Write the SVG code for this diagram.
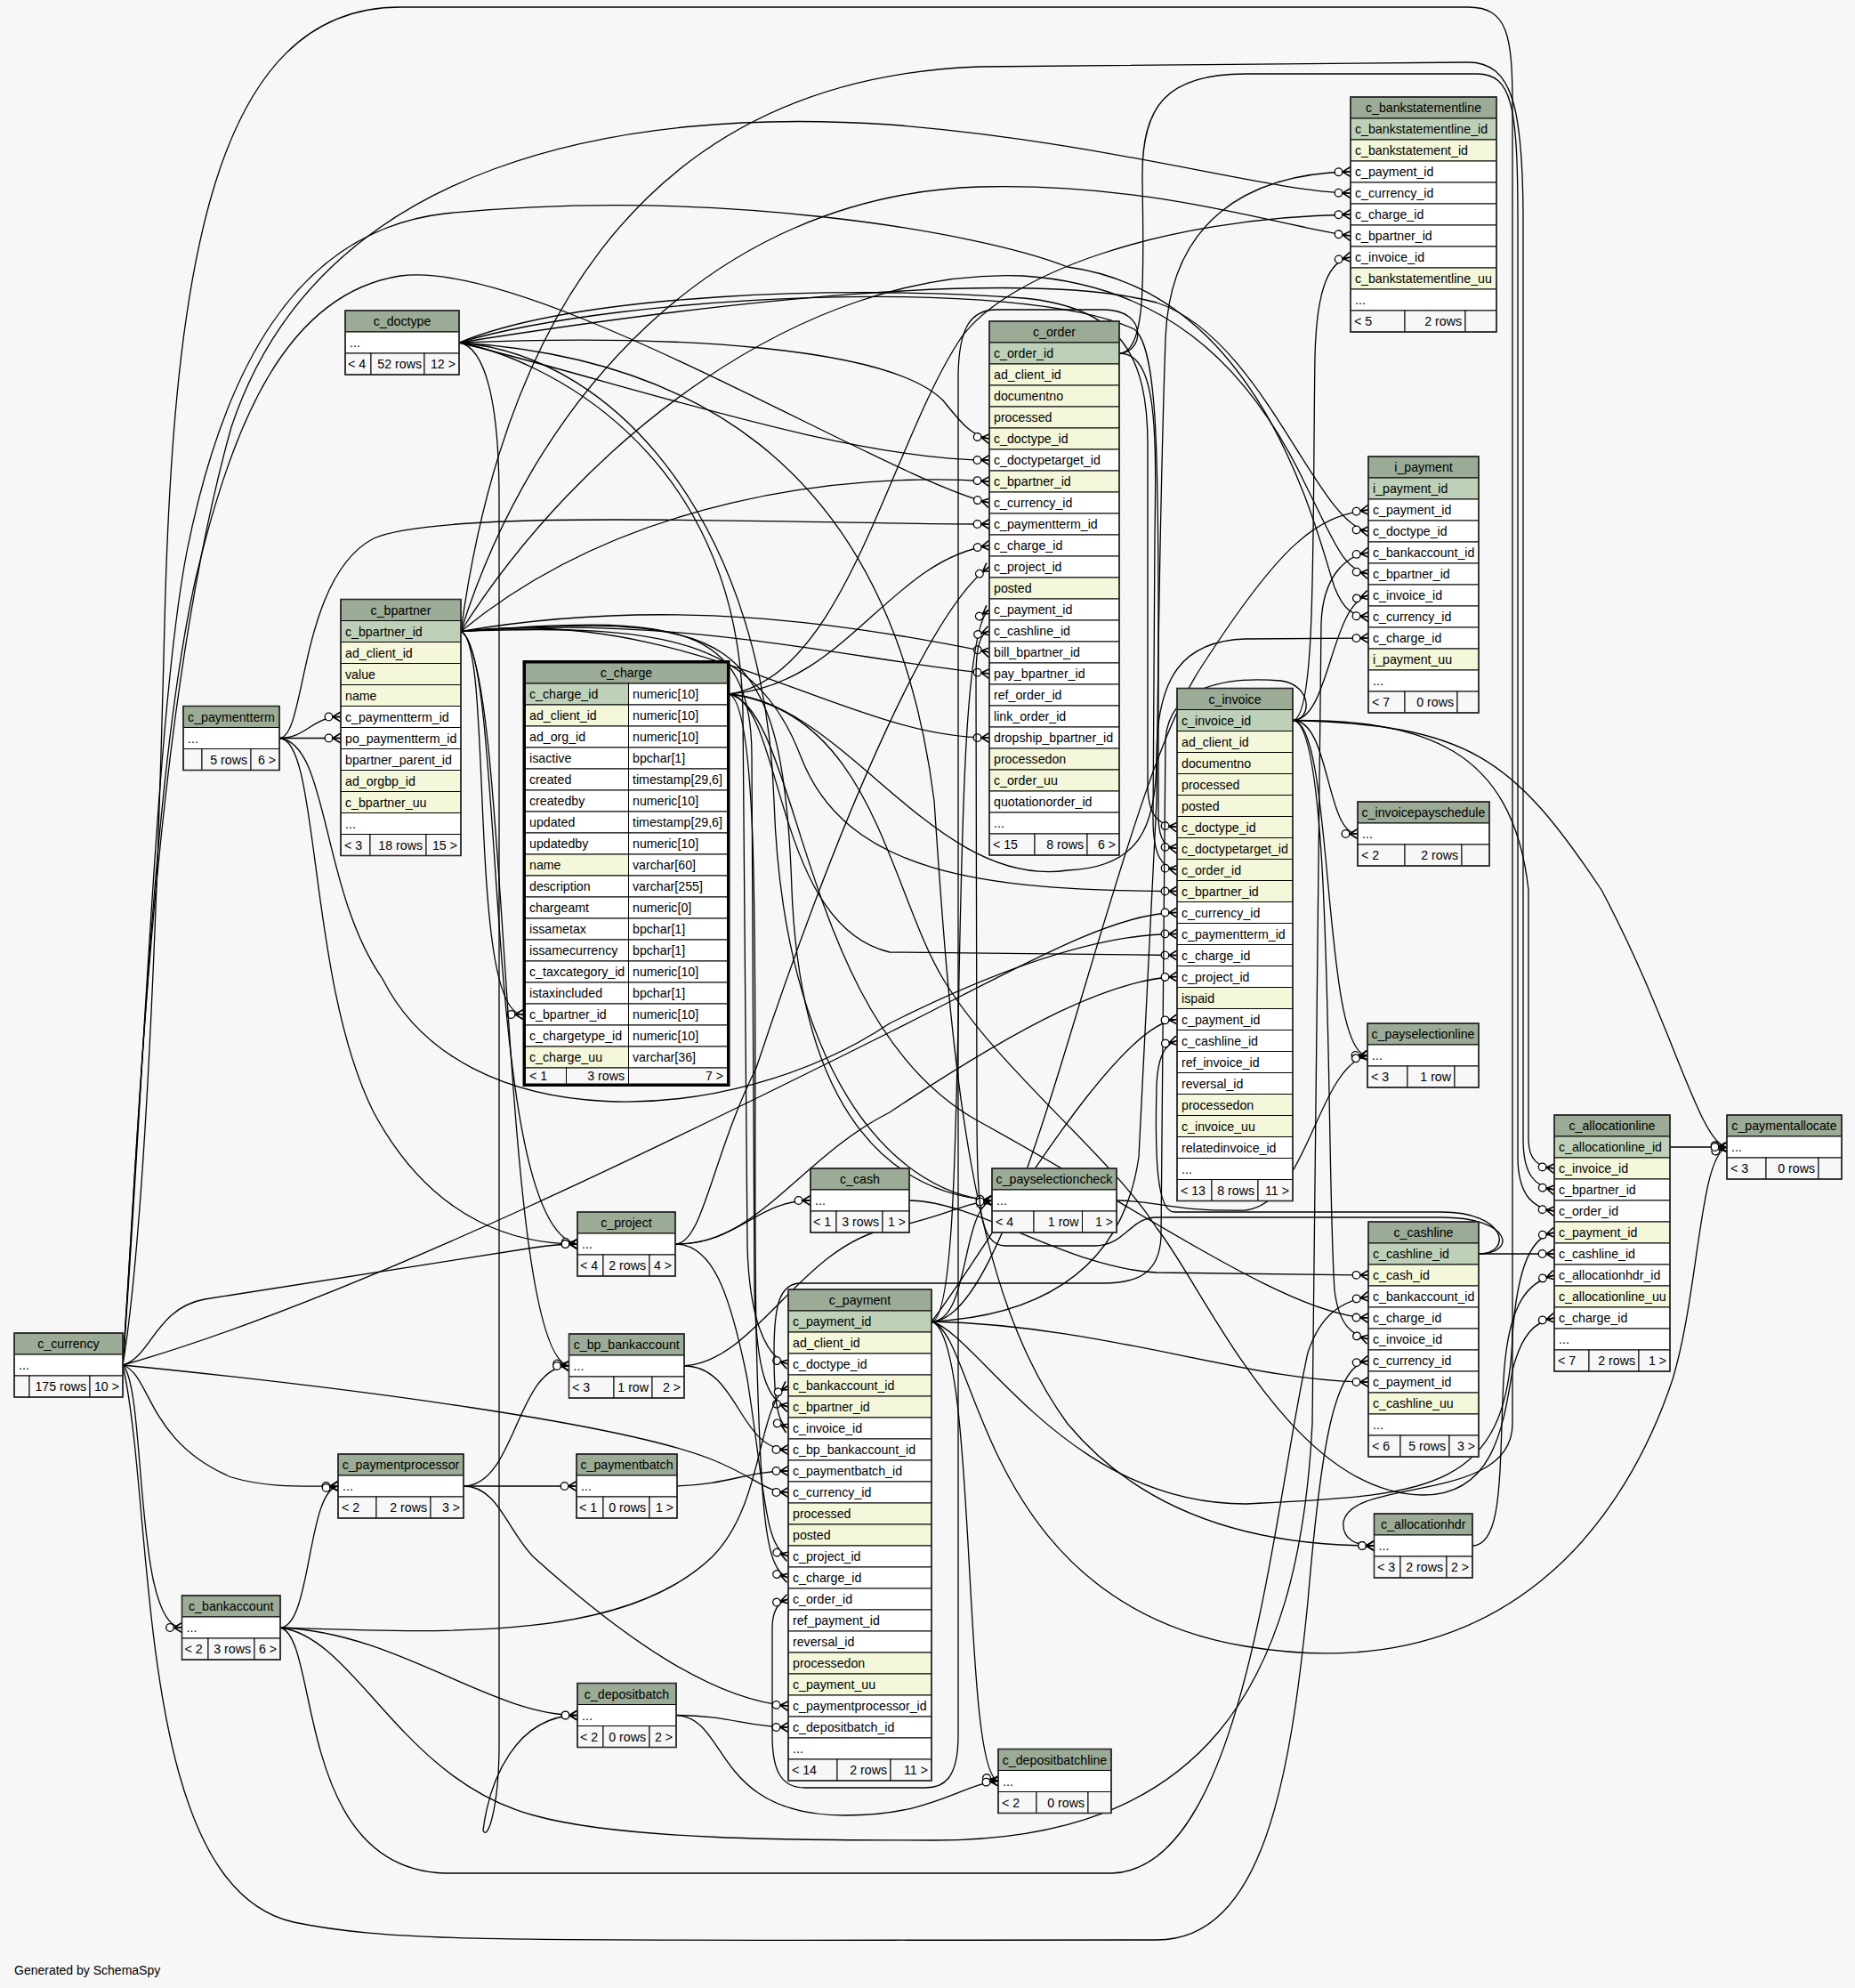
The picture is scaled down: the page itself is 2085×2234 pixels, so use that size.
<svg xmlns="http://www.w3.org/2000/svg" width="2085" height="2234" viewBox="0 0 2085 2234">
<defs>
<style>
.t{font-family:"Liberation Sans",Arial,Helvetica,sans-serif;font-size:14.2px;fill:#000}
.h{text-anchor:middle}
.r{text-anchor:end}
.hd{fill:#9bab96;stroke:#000;stroke-width:1}
.pk{fill:#bed1b8;stroke:#000;stroke-width:1}
.ix{fill:#f4f7da;stroke:#000;stroke-width:1}
.rw{fill:#ffffff;stroke:#000;stroke-width:1}
.ft{fill:#f7f7f7;stroke:#000;stroke-width:1}
.ob{fill:none;stroke:#2a2a2a;stroke-width:1.6}
.fr{fill:none;stroke:#000;stroke-width:3}
.e{fill:none;stroke:#000;stroke-width:1.3;marker-end:url(#crow)}
</style>
<marker id="crow" markerUnits="userSpaceOnUse" markerWidth="30" markerHeight="20" viewBox="0 0 30 20" refX="24" refY="10" orient="auto" overflow="visible">
<path d="M15,10 L24,4.5 M15,10 L24,10 M15,10 L24,15.5" fill="none" stroke="#000" stroke-width="1.6"/>
<circle cx="10.5" cy="10" r="4.3" fill="#ffffff" stroke="#000" stroke-width="1.3"/>
</marker>
</defs>
<rect x="0" y="0" width="2085" height="2234" fill="#f7f7f7"/>

<g id="connectors">
<path class="e" d="M516 385 C760 375 1000 390 1060 450 C1080 475 1092 490 1112 493"/>
<path class="e" d="M516 385 C700 430 950 517 1112 517"/>
<path class="e" d="M516 385 C650 330 950 320 1150 335 C1260 345 1290 400 1290 500 L1290 880 C1290 915 1300 927 1323 929.5"/>
<path class="e" d="M516 385 C700 330 1150 310 1275 370 C1300 390 1302 500 1302 700 L1302 920 C1303 945 1310 952 1323 953.5"/>
<path class="e" d="M516 385 C600 400 830 500 835 800 L840 1400 C842 1480 860 1525 886 1533"/>
<path class="e" d="M516 385 C800 340 1150 300 1300 340 C1420 380 1480 590 1538 597"/>
<path class="e" d="M516 385 C545 390 561 450 561 560 L561 1960 C561 2030 548 2070 543 2057 C550 2000 580 1928 649 1927.5"/>
<path class="e" d="M516 385 C750 400 1000 500 1050 900 C1070 1200 1090 1450 1200 1600 C1300 1720 1450 1737 1544.5 1737"/>
<path class="e" d="M516 385 C700 400 860 600 870 900 C880 1200 1000 1340 1115 1349"/>

<path class="e" d="M518 709.5 C555 720 525 1140 588 1140"/>
<path class="e" d="M518 709.5 C570 730 540 1380 649 1398"/>
<path class="e" d="M518 709.5 C575 740 560 1520 639.5 1535"/>
<path class="e" d="M518 709.5 C700 560 950 530 1112 541"/>
<path class="e" d="M518 709.5 C750 670 950 700 1112 733"/>
<path class="e" d="M518 709.5 C760 690 950 740 1112 757"/>
<path class="e" d="M518 709.5 C780 680 950 830 1112 829"/>
<path class="e" d="M518 709.5 C750 700 850 720 900 850 C950 980 1100 1001 1323 1001.5"/>
<path class="e" d="M518 709.5 C760 690 845 700 845 850 L848 1450 C850 1540 862 1575 886 1581"/>
<path class="e" d="M518 709.5 C600 450 800 220 1100 210 C1300 205 1440 255 1518 265"/>
<path class="e" d="M518 709.5 C650 500 900 300 1150 310 C1300 320 1400 400 1470 550 C1500 610 1510 640 1538 645"/>
<path class="e" d="M518 709.5 C560 400 700 90 1100 75 L1650 70 C1700 70 1712 120 1712 250 L1712 1280 C1712 1320 1725 1333 1747 1337"/>
<path class="e" d="M518 709.5 C820 690 880 700 890 1000 C900 1250 1000 1340 1115 1349"/>

<path class="e" d="M314 829.5 C345 829.5 350 805.5 383 805.5"/>
<path class="e" d="M314 829.5 L383 829.5"/>
<path class="e" d="M314 829.5 C345 829 335 650 420 605 C500 570 900 589 1112 589"/>
<path class="e" d="M314 829.5 C370 835 360 1000 430 1100 C520 1280 820 1270 1000 1150 C1150 1075 1250 1049 1323 1049.5"/>
<path class="e" d="M314 829.5 C360 829.5 345 1100 420 1250 C490 1380 590 1398 649 1398"/>

<path class="e" d="M820 780 C950 760 1000 500 1080 380 C1130 310 1300 245 1518 241"/>
<path class="e" d="M820 780 C950 790 1050 1000 1200 978 C1280 975 1300 930 1300 850 C1300 760 1330 720 1400 718 L1538 717"/>
<path class="e" d="M820 780 C950 770 1000 630 1112 613"/>
<path class="e" d="M820 780 C880 790 870 1040 1000 1070 L1323 1073.5"/>
<path class="e" d="M820 780 C860 800 845 1200 850 1500 C855 1700 860 1765 886 1773"/>
<path class="e" d="M820 780 C900 800 900 1150 1100 1260 C1300 1370 1450 1478 1538 1481"/>
<path class="e" d="M820 780 C980 800 1000 1000 1060 1100 C1120 1200 1250 1300 1300 1380 C1350 1440 1450 1680 1600 1680 C1680 1680 1690 1600 1700 1540 C1710 1500 1725 1485 1747 1481"/>

<path class="e" d="M1258 397 C1300 397 1300 480 1298 600 L1296 920 C1296 960 1305 975 1323 977.5"/>
<path class="e" d="M1258 397 C1285 397 1292 348 1240 348 L1120 348 C1090 348 1078 370 1077 420 L1077 1950 C1077 2000 1060 2009 1040 2009 L905 2009 C878 2009 868 1990 868 1950 L868 1830 C868 1810 875 1800 886 1797"/>
<path class="e" d="M1258 397 C1290 397 1285 300 1284 200 C1283 120 1310 83 1400 83 L1660 83 C1700 83 1706 120 1706 250 L1706 1300 C1706 1345 1725 1358 1747 1361"/>

<path class="e" d="M1453 809.5 C1480 809 1475 600 1478 400 C1480 320 1495 293 1518 289"/>
<path class="e" d="M1453 809.5 C1495 809 1495 680 1538 669"/>
<path class="e" d="M1453 809.5 C1495 809 1490 937 1526 937"/>
<path class="e" d="M1453 809.5 C1500 809 1485 1186 1537 1186"/>
<path class="e" d="M1453 809.5 C1500 809 1490 1300 1500 1450 C1505 1490 1520 1500 1538 1505"/>
<path class="e" d="M1453 809.5 C1600 809 1700 840 1718 1000 L1718 1280 C1718 1305 1730 1311 1747 1313"/>
<path class="e" d="M1453 809.5 C1650 815 1700 850 1800 1000 C1880 1150 1910 1285 1941 1289"/>
<path class="e" d="M1453 809.5 C1475 809 1475 770 1440 765 C1380 760 1315 770 1310 830 L1305 1390 C1303 1430 1280 1442 1240 1442 L900 1442 C875 1442 870 1470 870 1520 C870 1580 875 1600 886 1605"/>

<path class="e" d="M1047 1485 C1150 1480 1260 1440 1280 1300 L1300 900 C1302 700 1306 500 1310 380 C1315 250 1400 195 1518 193"/>
<path class="e" d="M1047 1485 C1150 1485 1250 900 1350 750 C1440 610 1480 580 1538 573"/>
<path class="e" d="M1047 1485 C1095 1485 1060 720 1112 685"/>
<path class="e" d="M1047 1485 C1100 1420 1250 1150 1323 1145.5"/>
<path class="e" d="M1047 1485 C1250 1490 1400 1553 1538 1553"/>
<path class="e" d="M1047 1485 C1100 1500 1200 1690 1400 1690 C1600 1680 1695 1680 1700 1500 C1706 1420 1722 1390 1747 1385"/>
<path class="e" d="M1047 1485 C1100 1500 1100 1800 1400 1850 C1700 1900 1830 1700 1880 1550 C1910 1450 1910 1300 1941 1289"/>
<path class="e" d="M1047 1485 C1090 1485 1080 1360 1115 1349"/>
<path class="e" d="M1047 1485 C1100 1500 1080 1990 1122 2001.5"/>

<path class="e" d="M138 1534 C165 1560 150 1829 204.5 1829"/>
<path class="e" d="M138 1534 C170 1545 165 1620 260 1660 C300 1672 340 1670 380 1670"/>
<path class="e" d="M138 1534 C170 1525 175 1470 230 1460 L600 1402 C620 1399 635 1398 649 1398"/>
<path class="e" d="M138 1534 C155 1300 170 800 260 480 C360 180 700 120 1000 140 C1250 160 1420 215 1518 217"/>
<path class="e" d="M138 1534 C160 1250 175 800 210 620 C250 420 330 260 500 240 C800 210 1100 260 1200 300 C1420 330 1480 600 1500 660 C1510 685 1520 692 1538 693"/>
<path class="e" d="M138 1534 C160 1200 175 850 220 650 C260 480 320 330 450 310 C600 290 1000 540 1112 565"/>
<path class="e" d="M138 1534 C400 1460 800 1260 1000 1160 C1140 1090 1250 1025 1323 1025.5"/>
<path class="e" d="M138 1534 C400 1560 700 1600 800 1640 C850 1660 860 1677 886 1677"/>
<path class="e" d="M138 1534 C175 1700 150 2120 330 2160 C450 2185 600 2180 1300 2180 C1420 2180 1450 2000 1470 1800 C1485 1620 1500 1535 1538 1529"/>
<path class="e" d="M138 1534 C160 1400 175 1100 185 700 C195 300 240 8 450 8 L1650 8 C1695 8 1700 40 1700 120 L1700 1600 C1700 1690 1520 1660 1510 1710 C1508 1730 1525 1737 1544.5 1737"/>

<path class="e" d="M315 1829 C350 1829 345 1675 380 1670"/>
<path class="e" d="M315 1829 C450 1835 550 1927.5 649 1927.5"/>
<path class="e" d="M315 1829 C500 1835 700 1845 800 1750 C860 1690 850 1580 886 1557"/>
<path class="e" d="M315 1829 C360 1840 330 2100 500 2105 L1250 2105 C1400 2100 1430 1700 1470 1520 C1485 1475 1510 1462 1538 1457"/>
<path class="e" d="M315 1829 C400 1840 450 2000 600 2040 C700 2068 900 2068 1050 2068 C1350 2068 1460 1900 1475 1600 L1485 700 C1487 650 1510 625 1538 621"/>

<path class="e" d="M521 1670 L648 1670"/>
<path class="e" d="M521 1670 C580 1670 580 1535 639.5 1535"/>
<path class="e" d="M521 1670 C560 1670 570 1720 600 1750 C700 1840 800 1910 886 1917"/>
<path class="e" d="M761 1670 C820 1668 840 1653 886 1653"/>
<path class="e" d="M760 1927.5 C820 1927.5 840 1941 886 1941"/>
<path class="e" d="M760 1927.5 C820 1930 800 2040 950 2040 C1050 2040 1080 2005 1122 2001.5"/>
<path class="e" d="M769 1535 C830 1535 830 1629 886 1629"/>
<path class="e" d="M769 1535 C850 1530 900 1400 1000 1380 C1060 1368 1080 1353 1115 1349"/>
<path class="e" d="M759 1398 C830 1398 850 1349 911 1349"/>
<path class="e" d="M759 1398 C790 1398 800 1300 850 1200 C950 900 1050 680 1112 637"/>
<path class="e" d="M759 1398 C850 1400 900 1300 1000 1250 C1150 1150 1250 1100 1323 1097.5"/>
<path class="e" d="M759 1398 C800 1398 820 1450 840 1550 C860 1680 860 1740 886 1749"/>
<path class="e" d="M1022 1349 C1100 1350 1200 1425 1300 1430 L1538 1433"/>
<path class="e" d="M1255 1349 C1300 1349 1320 1362 1400 1360 C1470 1352 1480 1200 1537 1186"/>
<path class="e" d="M1655 1737 C1690 1737 1685 1650 1690 1550 C1695 1460 1720 1440 1747 1433"/>
<path class="e" d="M1877 1289 L1941 1289"/>
<path class="e" d="M1662 1409 C1705 1409 1700 1368 1620 1368 L1300 1368 C1270 1368 1265 1400 1230 1400 L1130 1400 C1100 1400 1098 1350 1098 1250 L1097 760 C1097 725 1102 712 1112 709"/>
<path class="e" d="M1662 1409 C1700 1409 1695 1362 1620 1362 L1320 1362 C1300 1362 1298 1300 1300 1220 C1301 1190 1308 1173 1323 1169.5"/>
<path class="e" d="M1662 1409 L1747 1409"/>
</g>

<g id="c_bankstatementline">
<rect class="hd" x="1518" y="109" width="164" height="24"/>
<rect class="pk" x="1518" y="133" width="164" height="24"/>
<rect class="ix" x="1518" y="157" width="164" height="24"/>
<rect class="rw" x="1518" y="181" width="164" height="24"/>
<rect class="rw" x="1518" y="205" width="164" height="24"/>
<rect class="rw" x="1518" y="229" width="164" height="24"/>
<rect class="rw" x="1518" y="253" width="164" height="24"/>
<rect class="rw" x="1518" y="277" width="164" height="24"/>
<rect class="ix" x="1518" y="301" width="164" height="24"/>
<rect class="rw" x="1518" y="325" width="164" height="24"/>
<rect class="ft" x="1518" y="349" width="61" height="24"/>
<rect class="ft" x="1579" y="349" width="68" height="24"/>
<rect class="ft" x="1647" y="349" width="35" height="24"/>
<rect class="ob" x="1518" y="109" width="164" height="264"/>
<text class="t h" x="1600" y="126">c_bankstatementline</text>
<text class="t" x="1523" y="150">c_bankstatementline_id</text>
<text class="t" x="1523" y="174">c_bankstatement_id</text>
<text class="t" x="1523" y="198">c_payment_id</text>
<text class="t" x="1523" y="222">c_currency_id</text>
<text class="t" x="1523" y="246">c_charge_id</text>
<text class="t" x="1523" y="270">c_bpartner_id</text>
<text class="t" x="1523" y="294">c_invoice_id</text>
<text class="t" x="1523" y="318">c_bankstatementline_uu</text>
<text class="t" x="1523" y="342">...</text>
<text class="t" x="1522" y="366">&lt; 5</text>
<text class="t r" x="1643" y="366">2 rows</text>
</g>

<g id="i_payment">
<rect class="hd" x="1538" y="513" width="124" height="24"/>
<rect class="pk" x="1538" y="537" width="124" height="24"/>
<rect class="rw" x="1538" y="561" width="124" height="24"/>
<rect class="rw" x="1538" y="585" width="124" height="24"/>
<rect class="rw" x="1538" y="609" width="124" height="24"/>
<rect class="rw" x="1538" y="633" width="124" height="24"/>
<rect class="rw" x="1538" y="657" width="124" height="24"/>
<rect class="rw" x="1538" y="681" width="124" height="24"/>
<rect class="rw" x="1538" y="705" width="124" height="24"/>
<rect class="ix" x="1538" y="729" width="124" height="24"/>
<rect class="rw" x="1538" y="753" width="124" height="24"/>
<rect class="ft" x="1538" y="777" width="41" height="24"/>
<rect class="ft" x="1579" y="777" width="59" height="24"/>
<rect class="ft" x="1638" y="777" width="24" height="24"/>
<rect class="ob" x="1538" y="513" width="124" height="288"/>
<text class="t h" x="1600" y="530">i_payment</text>
<text class="t" x="1543" y="554">i_payment_id</text>
<text class="t" x="1543" y="578">c_payment_id</text>
<text class="t" x="1543" y="602">c_doctype_id</text>
<text class="t" x="1543" y="626">c_bankaccount_id</text>
<text class="t" x="1543" y="650">c_bpartner_id</text>
<text class="t" x="1543" y="674">c_invoice_id</text>
<text class="t" x="1543" y="698">c_currency_id</text>
<text class="t" x="1543" y="722">c_charge_id</text>
<text class="t" x="1543" y="746">i_payment_uu</text>
<text class="t" x="1543" y="770">...</text>
<text class="t" x="1542" y="794">&lt; 7</text>
<text class="t r" x="1634" y="794">0 rows</text>
</g>

<g id="c_order">
<rect class="hd" x="1112" y="361" width="146" height="24"/>
<rect class="pk" x="1112" y="385" width="146" height="24"/>
<rect class="ix" x="1112" y="409" width="146" height="24"/>
<rect class="ix" x="1112" y="433" width="146" height="24"/>
<rect class="ix" x="1112" y="457" width="146" height="24"/>
<rect class="ix" x="1112" y="481" width="146" height="24"/>
<rect class="rw" x="1112" y="505" width="146" height="24"/>
<rect class="ix" x="1112" y="529" width="146" height="24"/>
<rect class="rw" x="1112" y="553" width="146" height="24"/>
<rect class="rw" x="1112" y="577" width="146" height="24"/>
<rect class="rw" x="1112" y="601" width="146" height="24"/>
<rect class="rw" x="1112" y="625" width="146" height="24"/>
<rect class="ix" x="1112" y="649" width="146" height="24"/>
<rect class="rw" x="1112" y="673" width="146" height="24"/>
<rect class="rw" x="1112" y="697" width="146" height="24"/>
<rect class="rw" x="1112" y="721" width="146" height="24"/>
<rect class="rw" x="1112" y="745" width="146" height="24"/>
<rect class="rw" x="1112" y="769" width="146" height="24"/>
<rect class="rw" x="1112" y="793" width="146" height="24"/>
<rect class="rw" x="1112" y="817" width="146" height="24"/>
<rect class="ix" x="1112" y="841" width="146" height="24"/>
<rect class="ix" x="1112" y="865" width="146" height="24"/>
<rect class="rw" x="1112" y="889" width="146" height="24"/>
<rect class="rw" x="1112" y="913" width="146" height="24"/>
<rect class="ft" x="1112" y="937" width="51" height="24"/>
<rect class="ft" x="1163" y="937" width="59" height="24"/>
<rect class="ft" x="1222" y="937" width="36" height="24"/>
<rect class="ob" x="1112" y="361" width="146" height="600"/>
<text class="t h" x="1185" y="378">c_order</text>
<text class="t" x="1117" y="402">c_order_id</text>
<text class="t" x="1117" y="426">ad_client_id</text>
<text class="t" x="1117" y="450">documentno</text>
<text class="t" x="1117" y="474">processed</text>
<text class="t" x="1117" y="498">c_doctype_id</text>
<text class="t" x="1117" y="522">c_doctypetarget_id</text>
<text class="t" x="1117" y="546">c_bpartner_id</text>
<text class="t" x="1117" y="570">c_currency_id</text>
<text class="t" x="1117" y="594">c_paymentterm_id</text>
<text class="t" x="1117" y="618">c_charge_id</text>
<text class="t" x="1117" y="642">c_project_id</text>
<text class="t" x="1117" y="666">posted</text>
<text class="t" x="1117" y="690">c_payment_id</text>
<text class="t" x="1117" y="714">c_cashline_id</text>
<text class="t" x="1117" y="738">bill_bpartner_id</text>
<text class="t" x="1117" y="762">pay_bpartner_id</text>
<text class="t" x="1117" y="786">ref_order_id</text>
<text class="t" x="1117" y="810">link_order_id</text>
<text class="t" x="1117" y="834">dropship_bpartner_id</text>
<text class="t" x="1117" y="858">processedon</text>
<text class="t" x="1117" y="882">c_order_uu</text>
<text class="t" x="1117" y="906">quotationorder_id</text>
<text class="t" x="1117" y="930">...</text>
<text class="t" x="1116" y="954">&lt; 15</text>
<text class="t r" x="1218" y="954">8 rows</text>
<text class="t r" x="1254" y="954">6 &gt;</text>
</g>

<g id="c_doctype">
<rect class="hd" x="388" y="349" width="128" height="24"/>
<rect class="rw" x="388" y="373" width="128" height="24"/>
<rect class="ft" x="388" y="397" width="29" height="24"/>
<rect class="ft" x="417" y="397" width="60" height="24"/>
<rect class="ft" x="477" y="397" width="39" height="24"/>
<rect class="ob" x="388" y="349" width="128" height="72"/>
<text class="t h" x="452" y="366">c_doctype</text>
<text class="t" x="393" y="390">...</text>
<text class="t" x="391" y="414">&lt; 4</text>
<text class="t r" x="474" y="414">52 rows</text>
<text class="t r" x="512" y="414">12 &gt;</text>
</g>

<g id="c_paymentterm">
<rect class="hd" x="206" y="793.5" width="108" height="24"/>
<rect class="rw" x="206" y="817.5" width="108" height="24"/>
<rect class="ft" x="206" y="841.5" width="21" height="24"/>
<rect class="ft" x="227" y="841.5" width="55" height="24"/>
<rect class="ft" x="282" y="841.5" width="32" height="24"/>
<rect class="ob" x="206" y="793.5" width="108" height="72"/>
<text class="t h" x="260" y="810.5">c_paymentterm</text>
<text class="t" x="211" y="834.5">...</text>
<text class="t r" x="278" y="858.5">5 rows</text>
<text class="t r" x="310" y="858.5">6 &gt;</text>
</g>

<g id="c_bpartner">
<rect class="hd" x="383" y="673.5" width="135" height="24"/>
<rect class="pk" x="383" y="697.5" width="135" height="24"/>
<rect class="ix" x="383" y="721.5" width="135" height="24"/>
<rect class="ix" x="383" y="745.5" width="135" height="24"/>
<rect class="ix" x="383" y="769.5" width="135" height="24"/>
<rect class="rw" x="383" y="793.5" width="135" height="24"/>
<rect class="rw" x="383" y="817.5" width="135" height="24"/>
<rect class="rw" x="383" y="841.5" width="135" height="24"/>
<rect class="ix" x="383" y="865.5" width="135" height="24"/>
<rect class="ix" x="383" y="889.5" width="135" height="24"/>
<rect class="rw" x="383" y="913.5" width="135" height="24"/>
<rect class="ft" x="383" y="937.5" width="33" height="24"/>
<rect class="ft" x="416" y="937.5" width="63" height="24"/>
<rect class="ft" x="479" y="937.5" width="39" height="24"/>
<rect class="ob" x="383" y="673.5" width="135" height="288"/>
<text class="t h" x="450.5" y="690.5">c_bpartner</text>
<text class="t" x="388" y="714.5">c_bpartner_id</text>
<text class="t" x="388" y="738.5">ad_client_id</text>
<text class="t" x="388" y="762.5">value</text>
<text class="t" x="388" y="786.5">name</text>
<text class="t" x="388" y="810.5">c_paymentterm_id</text>
<text class="t" x="388" y="834.5">po_paymentterm_id</text>
<text class="t" x="388" y="858.5">bpartner_parent_id</text>
<text class="t" x="388" y="882.5">ad_orgbp_id</text>
<text class="t" x="388" y="906.5">c_bpartner_uu</text>
<text class="t" x="388" y="930.5">...</text>
<text class="t" x="387" y="954.5">&lt; 3</text>
<text class="t r" x="475" y="954.5">18 rows</text>
<text class="t r" x="514" y="954.5">15 &gt;</text>
</g>

<g id="c_charge">
<rect class="hd" x="590.5" y="745" width="227" height="23"/>
<rect class="pk" x="590.5" y="768" width="116" height="24"/><rect class="rw" x="706.5" y="768" width="111" height="24"/>
<rect class="ix" x="590.5" y="792" width="116" height="24"/><rect class="rw" x="706.5" y="792" width="111" height="24"/>
<rect class="rw" x="590.5" y="816" width="116" height="24"/><rect class="rw" x="706.5" y="816" width="111" height="24"/>
<rect class="rw" x="590.5" y="840" width="116" height="24"/><rect class="rw" x="706.5" y="840" width="111" height="24"/>
<rect class="rw" x="590.5" y="864" width="116" height="24"/><rect class="rw" x="706.5" y="864" width="111" height="24"/>
<rect class="rw" x="590.5" y="888" width="116" height="24"/><rect class="rw" x="706.5" y="888" width="111" height="24"/>
<rect class="rw" x="590.5" y="912" width="116" height="24"/><rect class="rw" x="706.5" y="912" width="111" height="24"/>
<rect class="rw" x="590.5" y="936" width="116" height="24"/><rect class="rw" x="706.5" y="936" width="111" height="24"/>
<rect class="ix" x="590.5" y="960" width="116" height="24"/><rect class="rw" x="706.5" y="960" width="111" height="24"/>
<rect class="rw" x="590.5" y="984" width="116" height="24"/><rect class="rw" x="706.5" y="984" width="111" height="24"/>
<rect class="rw" x="590.5" y="1008" width="116" height="24"/><rect class="rw" x="706.5" y="1008" width="111" height="24"/>
<rect class="rw" x="590.5" y="1032" width="116" height="24"/><rect class="rw" x="706.5" y="1032" width="111" height="24"/>
<rect class="rw" x="590.5" y="1056" width="116" height="24"/><rect class="rw" x="706.5" y="1056" width="111" height="24"/>
<rect class="rw" x="590.5" y="1080" width="116" height="24"/><rect class="rw" x="706.5" y="1080" width="111" height="24"/>
<rect class="rw" x="590.5" y="1104" width="116" height="24"/><rect class="rw" x="706.5" y="1104" width="111" height="24"/>
<rect class="rw" x="590.5" y="1128" width="116" height="24"/><rect class="rw" x="706.5" y="1128" width="111" height="24"/>
<rect class="rw" x="590.5" y="1152" width="116" height="24"/><rect class="rw" x="706.5" y="1152" width="111" height="24"/>
<rect class="ix" x="590.5" y="1176" width="116" height="24"/><rect class="rw" x="706.5" y="1176" width="111" height="24"/>
<rect class="ft" x="590.5" y="1200" width="46" height="18"/>
<rect class="ft" x="636.5" y="1200" width="70" height="18"/>
<rect class="ft" x="706.5" y="1200" width="111" height="18"/>
<rect class="fr" x="589" y="743.5" width="230" height="476"/>
<text class="t h" x="704" y="761">c_charge</text>
<text class="t" x="595" y="785">c_charge_id</text><text class="t" x="711" y="785">numeric[10]</text>
<text class="t" x="595" y="809">ad_client_id</text><text class="t" x="711" y="809">numeric[10]</text>
<text class="t" x="595" y="833">ad_org_id</text><text class="t" x="711" y="833">numeric[10]</text>
<text class="t" x="595" y="857">isactive</text><text class="t" x="711" y="857">bpchar[1]</text>
<text class="t" x="595" y="881">created</text><text class="t" x="711" y="881">timestamp[29,6]</text>
<text class="t" x="595" y="905">createdby</text><text class="t" x="711" y="905">numeric[10]</text>
<text class="t" x="595" y="929">updated</text><text class="t" x="711" y="929">timestamp[29,6]</text>
<text class="t" x="595" y="953">updatedby</text><text class="t" x="711" y="953">numeric[10]</text>
<text class="t" x="595" y="977">name</text><text class="t" x="711" y="977">varchar[60]</text>
<text class="t" x="595" y="1001">description</text><text class="t" x="711" y="1001">varchar[255]</text>
<text class="t" x="595" y="1025">chargeamt</text><text class="t" x="711" y="1025">numeric[0]</text>
<text class="t" x="595" y="1049">issametax</text><text class="t" x="711" y="1049">bpchar[1]</text>
<text class="t" x="595" y="1073">issamecurrency</text><text class="t" x="711" y="1073">bpchar[1]</text>
<text class="t" x="595" y="1097">c_taxcategory_id</text><text class="t" x="711" y="1097">numeric[10]</text>
<text class="t" x="595" y="1121">istaxincluded</text><text class="t" x="711" y="1121">bpchar[1]</text>
<text class="t" x="595" y="1145">c_bpartner_id</text><text class="t" x="711" y="1145">numeric[10]</text>
<text class="t" x="595" y="1169">c_chargetype_id</text><text class="t" x="711" y="1169">numeric[10]</text>
<text class="t" x="595" y="1193">c_charge_uu</text><text class="t" x="711" y="1193">varchar[36]</text>
<text class="t" x="595" y="1214">&lt; 1</text>
<text class="t r" x="702" y="1214">3 rows</text>
<text class="t r" x="813" y="1214">7 &gt;</text>
</g>

<g id="c_invoice">
<rect class="hd" x="1323" y="773.5" width="130" height="24"/>
<rect class="pk" x="1323" y="797.5" width="130" height="24"/>
<rect class="ix" x="1323" y="821.5" width="130" height="24"/>
<rect class="ix" x="1323" y="845.5" width="130" height="24"/>
<rect class="ix" x="1323" y="869.5" width="130" height="24"/>
<rect class="ix" x="1323" y="893.5" width="130" height="24"/>
<rect class="ix" x="1323" y="917.5" width="130" height="24"/>
<rect class="ix" x="1323" y="941.5" width="130" height="24"/>
<rect class="ix" x="1323" y="965.5" width="130" height="24"/>
<rect class="ix" x="1323" y="989.5" width="130" height="24"/>
<rect class="rw" x="1323" y="1013.5" width="130" height="24"/>
<rect class="rw" x="1323" y="1037.5" width="130" height="24"/>
<rect class="rw" x="1323" y="1061.5" width="130" height="24"/>
<rect class="rw" x="1323" y="1085.5" width="130" height="24"/>
<rect class="ix" x="1323" y="1109.5" width="130" height="24"/>
<rect class="rw" x="1323" y="1133.5" width="130" height="24"/>
<rect class="rw" x="1323" y="1157.5" width="130" height="24"/>
<rect class="rw" x="1323" y="1181.5" width="130" height="24"/>
<rect class="rw" x="1323" y="1205.5" width="130" height="24"/>
<rect class="ix" x="1323" y="1229.5" width="130" height="24"/>
<rect class="ix" x="1323" y="1253.5" width="130" height="24"/>
<rect class="rw" x="1323" y="1277.5" width="130" height="24"/>
<rect class="rw" x="1323" y="1301.5" width="130" height="24"/>
<rect class="ft" x="1323" y="1325.5" width="39" height="24"/>
<rect class="ft" x="1362" y="1325.5" width="52" height="24"/>
<rect class="ft" x="1414" y="1325.5" width="39" height="24"/>
<rect class="ob" x="1323" y="773.5" width="130" height="576"/>
<text class="t h" x="1388" y="790.5">c_invoice</text>
<text class="t" x="1328" y="814.5">c_invoice_id</text>
<text class="t" x="1328" y="838.5">ad_client_id</text>
<text class="t" x="1328" y="862.5">documentno</text>
<text class="t" x="1328" y="886.5">processed</text>
<text class="t" x="1328" y="910.5">posted</text>
<text class="t" x="1328" y="934.5">c_doctype_id</text>
<text class="t" x="1328" y="958.5">c_doctypetarget_id</text>
<text class="t" x="1328" y="982.5">c_order_id</text>
<text class="t" x="1328" y="1006.5">c_bpartner_id</text>
<text class="t" x="1328" y="1030.5">c_currency_id</text>
<text class="t" x="1328" y="1054.5">c_paymentterm_id</text>
<text class="t" x="1328" y="1078.5">c_charge_id</text>
<text class="t" x="1328" y="1102.5">c_project_id</text>
<text class="t" x="1328" y="1126.5">ispaid</text>
<text class="t" x="1328" y="1150.5">c_payment_id</text>
<text class="t" x="1328" y="1174.5">c_cashline_id</text>
<text class="t" x="1328" y="1198.5">ref_invoice_id</text>
<text class="t" x="1328" y="1222.5">reversal_id</text>
<text class="t" x="1328" y="1246.5">processedon</text>
<text class="t" x="1328" y="1270.5">c_invoice_uu</text>
<text class="t" x="1328" y="1294.5">relatedinvoice_id</text>
<text class="t" x="1328" y="1318.5">...</text>
<text class="t" x="1327" y="1342.5">&lt; 13</text>
<text class="t r" x="1410" y="1342.5">8 rows</text>
<text class="t r" x="1449" y="1342.5">11 &gt;</text>
</g>

<g id="c_invoicepayschedule">
<rect class="hd" x="1526" y="901" width="148" height="24"/>
<rect class="rw" x="1526" y="925" width="148" height="24"/>
<rect class="ft" x="1526" y="949" width="53" height="24"/>
<rect class="ft" x="1579" y="949" width="64" height="24"/>
<rect class="ft" x="1643" y="949" width="31" height="24"/>
<rect class="ob" x="1526" y="901" width="148" height="72"/>
<text class="t h" x="1600" y="918">c_invoicepayschedule</text>
<text class="t" x="1531" y="942">...</text>
<text class="t" x="1530" y="966">&lt; 2</text>
<text class="t r" x="1639" y="966">2 rows</text>
</g>

<g id="c_payselectionline">
<rect class="hd" x="1537" y="1150" width="125" height="24"/>
<rect class="rw" x="1537" y="1174" width="125" height="24"/>
<rect class="ft" x="1537" y="1198" width="45" height="24"/>
<rect class="ft" x="1582" y="1198" width="53" height="24"/>
<rect class="ft" x="1635" y="1198" width="27" height="24"/>
<rect class="ob" x="1537" y="1150" width="125" height="72"/>
<text class="t h" x="1599.5" y="1167">c_payselectionline</text>
<text class="t" x="1542" y="1191">...</text>
<text class="t" x="1541" y="1215">&lt; 3</text>
<text class="t r" x="1631" y="1215">1 row</text>
</g>

<g id="c_allocationline">
<rect class="hd" x="1747" y="1253" width="130" height="24"/>
<rect class="pk" x="1747" y="1277" width="130" height="24"/>
<rect class="ix" x="1747" y="1301" width="130" height="24"/>
<rect class="rw" x="1747" y="1325" width="130" height="24"/>
<rect class="rw" x="1747" y="1349" width="130" height="24"/>
<rect class="ix" x="1747" y="1373" width="130" height="24"/>
<rect class="rw" x="1747" y="1397" width="130" height="24"/>
<rect class="rw" x="1747" y="1421" width="130" height="24"/>
<rect class="ix" x="1747" y="1445" width="130" height="24"/>
<rect class="rw" x="1747" y="1469" width="130" height="24"/>
<rect class="rw" x="1747" y="1493" width="130" height="24"/>
<rect class="ft" x="1747" y="1517" width="39" height="24"/>
<rect class="ft" x="1786" y="1517" width="56" height="24"/>
<rect class="ft" x="1842" y="1517" width="35" height="24"/>
<rect class="ob" x="1747" y="1253" width="130" height="288"/>
<text class="t h" x="1812" y="1270">c_allocationline</text>
<text class="t" x="1752" y="1294">c_allocationline_id</text>
<text class="t" x="1752" y="1318">c_invoice_id</text>
<text class="t" x="1752" y="1342">c_bpartner_id</text>
<text class="t" x="1752" y="1366">c_order_id</text>
<text class="t" x="1752" y="1390">c_payment_id</text>
<text class="t" x="1752" y="1414">c_cashline_id</text>
<text class="t" x="1752" y="1438">c_allocationhdr_id</text>
<text class="t" x="1752" y="1462">c_allocationline_uu</text>
<text class="t" x="1752" y="1486">c_charge_id</text>
<text class="t" x="1752" y="1510">...</text>
<text class="t" x="1751" y="1534">&lt; 7</text>
<text class="t r" x="1838" y="1534">2 rows</text>
<text class="t r" x="1873" y="1534">1 &gt;</text>
</g>

<g id="c_paymentallocate">
<rect class="hd" x="1941" y="1253" width="129" height="24"/>
<rect class="rw" x="1941" y="1277" width="129" height="24"/>
<rect class="ft" x="1941" y="1301" width="44" height="24"/>
<rect class="ft" x="1985" y="1301" width="59" height="24"/>
<rect class="ft" x="2044" y="1301" width="26" height="24"/>
<rect class="ob" x="1941" y="1253" width="129" height="72"/>
<text class="t h" x="2005.5" y="1270">c_paymentallocate</text>
<text class="t" x="1946" y="1294">...</text>
<text class="t" x="1945" y="1318">&lt; 3</text>
<text class="t r" x="2040" y="1318">0 rows</text>
</g>

<g id="c_cashline">
<rect class="hd" x="1538" y="1373" width="124" height="24"/>
<rect class="pk" x="1538" y="1397" width="124" height="24"/>
<rect class="ix" x="1538" y="1421" width="124" height="24"/>
<rect class="rw" x="1538" y="1445" width="124" height="24"/>
<rect class="rw" x="1538" y="1469" width="124" height="24"/>
<rect class="rw" x="1538" y="1493" width="124" height="24"/>
<rect class="rw" x="1538" y="1517" width="124" height="24"/>
<rect class="rw" x="1538" y="1541" width="124" height="24"/>
<rect class="ix" x="1538" y="1565" width="124" height="24"/>
<rect class="rw" x="1538" y="1589" width="124" height="24"/>
<rect class="ft" x="1538" y="1613" width="36" height="24"/>
<rect class="ft" x="1574" y="1613" width="55" height="24"/>
<rect class="ft" x="1629" y="1613" width="33" height="24"/>
<rect class="ob" x="1538" y="1373" width="124" height="264"/>
<text class="t h" x="1600" y="1390">c_cashline</text>
<text class="t" x="1543" y="1414">c_cashline_id</text>
<text class="t" x="1543" y="1438">c_cash_id</text>
<text class="t" x="1543" y="1462">c_bankaccount_id</text>
<text class="t" x="1543" y="1486">c_charge_id</text>
<text class="t" x="1543" y="1510">c_invoice_id</text>
<text class="t" x="1543" y="1534">c_currency_id</text>
<text class="t" x="1543" y="1558">c_payment_id</text>
<text class="t" x="1543" y="1582">c_cashline_uu</text>
<text class="t" x="1543" y="1606">...</text>
<text class="t" x="1542" y="1630">&lt; 6</text>
<text class="t r" x="1625" y="1630">5 rows</text>
<text class="t r" x="1658" y="1630">3 &gt;</text>
</g>

<g id="c_allocationhdr">
<rect class="hd" x="1544.5" y="1701" width="110.5" height="24"/>
<rect class="rw" x="1544.5" y="1725" width="110.5" height="24"/>
<rect class="ft" x="1544.5" y="1749" width="29.5" height="24"/>
<rect class="ft" x="1574" y="1749" width="52" height="24"/>
<rect class="ft" x="1626" y="1749" width="29" height="24"/>
<rect class="ob" x="1544.5" y="1701" width="110.5" height="72"/>
<text class="t h" x="1599.75" y="1718">c_allocationhdr</text>
<text class="t" x="1549.5" y="1742">...</text>
<text class="t" x="1548" y="1766">&lt; 3</text>
<text class="t r" x="1622" y="1766">2 rows</text>
<text class="t r" x="1651" y="1766">2 &gt;</text>
</g>

<g id="c_payment">
<rect class="hd" x="886" y="1449" width="161" height="24"/>
<rect class="pk" x="886" y="1473" width="161" height="24"/>
<rect class="ix" x="886" y="1497" width="161" height="24"/>
<rect class="rw" x="886" y="1521" width="161" height="24"/>
<rect class="ix" x="886" y="1545" width="161" height="24"/>
<rect class="ix" x="886" y="1569" width="161" height="24"/>
<rect class="rw" x="886" y="1593" width="161" height="24"/>
<rect class="rw" x="886" y="1617" width="161" height="24"/>
<rect class="rw" x="886" y="1641" width="161" height="24"/>
<rect class="rw" x="886" y="1665" width="161" height="24"/>
<rect class="ix" x="886" y="1689" width="161" height="24"/>
<rect class="ix" x="886" y="1713" width="161" height="24"/>
<rect class="rw" x="886" y="1737" width="161" height="24"/>
<rect class="rw" x="886" y="1761" width="161" height="24"/>
<rect class="rw" x="886" y="1785" width="161" height="24"/>
<rect class="rw" x="886" y="1809" width="161" height="24"/>
<rect class="rw" x="886" y="1833" width="161" height="24"/>
<rect class="ix" x="886" y="1857" width="161" height="24"/>
<rect class="ix" x="886" y="1881" width="161" height="24"/>
<rect class="rw" x="886" y="1905" width="161" height="24"/>
<rect class="rw" x="886" y="1929" width="161" height="24"/>
<rect class="rw" x="886" y="1953" width="161" height="24"/>
<rect class="ft" x="886" y="1977" width="55" height="24"/>
<rect class="ft" x="941" y="1977" width="60" height="24"/>
<rect class="ft" x="1001" y="1977" width="46" height="24"/>
<rect class="ob" x="886" y="1449" width="161" height="552"/>
<text class="t h" x="966.5" y="1466">c_payment</text>
<text class="t" x="891" y="1490">c_payment_id</text>
<text class="t" x="891" y="1514">ad_client_id</text>
<text class="t" x="891" y="1538">c_doctype_id</text>
<text class="t" x="891" y="1562">c_bankaccount_id</text>
<text class="t" x="891" y="1586">c_bpartner_id</text>
<text class="t" x="891" y="1610">c_invoice_id</text>
<text class="t" x="891" y="1634">c_bp_bankaccount_id</text>
<text class="t" x="891" y="1658">c_paymentbatch_id</text>
<text class="t" x="891" y="1682">c_currency_id</text>
<text class="t" x="891" y="1706">processed</text>
<text class="t" x="891" y="1730">posted</text>
<text class="t" x="891" y="1754">c_project_id</text>
<text class="t" x="891" y="1778">c_charge_id</text>
<text class="t" x="891" y="1802">c_order_id</text>
<text class="t" x="891" y="1826">ref_payment_id</text>
<text class="t" x="891" y="1850">reversal_id</text>
<text class="t" x="891" y="1874">processedon</text>
<text class="t" x="891" y="1898">c_payment_uu</text>
<text class="t" x="891" y="1922">c_paymentprocessor_id</text>
<text class="t" x="891" y="1946">c_depositbatch_id</text>
<text class="t" x="891" y="1970">...</text>
<text class="t" x="890" y="1994">&lt; 14</text>
<text class="t r" x="997" y="1994">2 rows</text>
<text class="t r" x="1043" y="1994">11 &gt;</text>
</g>

<g id="c_depositbatchline">
<rect class="hd" x="1122" y="1965.5" width="127" height="24"/>
<rect class="rw" x="1122" y="1989.5" width="127" height="24"/>
<rect class="ft" x="1122" y="2013.5" width="43" height="24"/>
<rect class="ft" x="1165" y="2013.5" width="58" height="24"/>
<rect class="ft" x="1223" y="2013.5" width="26" height="24"/>
<rect class="ob" x="1122" y="1965.5" width="127" height="72"/>
<text class="t h" x="1185.5" y="1982.5">c_depositbatchline</text>
<text class="t" x="1127" y="2006.5">...</text>
<text class="t" x="1126" y="2030.5">&lt; 2</text>
<text class="t r" x="1219" y="2030.5">0 rows</text>
</g>

<g id="c_cash">
<rect class="hd" x="911" y="1313" width="111" height="24"/>
<rect class="rw" x="911" y="1337" width="111" height="24"/>
<rect class="ft" x="911" y="1361" width="29" height="24"/>
<rect class="ft" x="940" y="1361" width="52" height="24"/>
<rect class="ft" x="992" y="1361" width="30" height="24"/>
<rect class="ob" x="911" y="1313" width="111" height="72"/>
<text class="t h" x="966.5" y="1330">c_cash</text>
<text class="t" x="916" y="1354">...</text>
<text class="t" x="914" y="1378">&lt; 1</text>
<text class="t r" x="988" y="1378">3 rows</text>
<text class="t r" x="1018" y="1378">1 &gt;</text>
</g>

<g id="c_payselectioncheck">
<rect class="hd" x="1115" y="1313" width="140" height="24"/>
<rect class="rw" x="1115" y="1337" width="140" height="24"/>
<rect class="ft" x="1115" y="1361" width="47" height="24"/>
<rect class="ft" x="1162" y="1361" width="54.5" height="24"/>
<rect class="ft" x="1216.5" y="1361" width="38.5" height="24"/>
<rect class="ob" x="1115" y="1313" width="140" height="72"/>
<text class="t h" x="1185" y="1330">c_payselectioncheck</text>
<text class="t" x="1120" y="1354">...</text>
<text class="t" x="1119" y="1378">&lt; 4</text>
<text class="t r" x="1212.5" y="1378">1 row</text>
<text class="t r" x="1251" y="1378">1 &gt;</text>
</g>

<g id="c_project">
<rect class="hd" x="649" y="1362" width="110" height="24"/>
<rect class="rw" x="649" y="1386" width="110" height="24"/>
<rect class="ft" x="649" y="1410" width="29" height="24"/>
<rect class="ft" x="678" y="1410" width="52" height="24"/>
<rect class="ft" x="730" y="1410" width="29" height="24"/>
<rect class="ob" x="649" y="1362" width="110" height="72"/>
<text class="t h" x="704" y="1379">c_project</text>
<text class="t" x="654" y="1403">...</text>
<text class="t" x="652" y="1427">&lt; 4</text>
<text class="t r" x="726" y="1427">2 rows</text>
<text class="t r" x="755" y="1427">4 &gt;</text>
</g>

<g id="c_bp_bankaccount">
<rect class="hd" x="639.5" y="1499" width="129.5" height="24"/>
<rect class="rw" x="639.5" y="1523" width="129.5" height="24"/>
<rect class="ft" x="639.5" y="1547" width="50.5" height="24"/>
<rect class="ft" x="690" y="1547" width="43" height="24"/>
<rect class="ft" x="733" y="1547" width="36" height="24"/>
<rect class="ob" x="639.5" y="1499" width="129.5" height="72"/>
<text class="t h" x="704.25" y="1516">c_bp_bankaccount</text>
<text class="t" x="644.5" y="1540">...</text>
<text class="t" x="643" y="1564">&lt; 3</text>
<text class="t r" x="729" y="1564">1 row</text>
<text class="t r" x="765" y="1564">2 &gt;</text>
</g>

<g id="c_currency">
<rect class="hd" x="16" y="1498" width="122" height="24"/>
<rect class="rw" x="16" y="1522" width="122" height="24"/>
<rect class="ft" x="16" y="1546" width="17" height="24"/>
<rect class="ft" x="33" y="1546" width="68" height="24"/>
<rect class="ft" x="101" y="1546" width="37" height="24"/>
<rect class="ob" x="16" y="1498" width="122" height="72"/>
<text class="t h" x="77" y="1515">c_currency</text>
<text class="t" x="21" y="1539">...</text>
<text class="t r" x="97" y="1563">175 rows</text>
<text class="t r" x="134" y="1563">10 &gt;</text>
</g>

<g id="c_paymentprocessor">
<rect class="hd" x="380" y="1634" width="141" height="24"/>
<rect class="rw" x="380" y="1658" width="141" height="24"/>
<rect class="ft" x="380" y="1682" width="43" height="24"/>
<rect class="ft" x="423" y="1682" width="61" height="24"/>
<rect class="ft" x="484" y="1682" width="37" height="24"/>
<rect class="ob" x="380" y="1634" width="141" height="72"/>
<text class="t h" x="450.5" y="1651">c_paymentprocessor</text>
<text class="t" x="385" y="1675">...</text>
<text class="t" x="384" y="1699">&lt; 2</text>
<text class="t r" x="480" y="1699">2 rows</text>
<text class="t r" x="517" y="1699">3 &gt;</text>
</g>

<g id="c_paymentbatch">
<rect class="hd" x="648" y="1634" width="113" height="24"/>
<rect class="rw" x="648" y="1658" width="113" height="24"/>
<rect class="ft" x="648" y="1682" width="30" height="24"/>
<rect class="ft" x="678" y="1682" width="52" height="24"/>
<rect class="ft" x="730" y="1682" width="31" height="24"/>
<rect class="ob" x="648" y="1634" width="113" height="72"/>
<text class="t h" x="704.5" y="1651">c_paymentbatch</text>
<text class="t" x="653" y="1675">...</text>
<text class="t" x="651" y="1699">&lt; 1</text>
<text class="t r" x="726" y="1699">0 rows</text>
<text class="t r" x="757" y="1699">1 &gt;</text>
</g>

<g id="c_bankaccount">
<rect class="hd" x="204.5" y="1793" width="110.5" height="24"/>
<rect class="rw" x="204.5" y="1817" width="110.5" height="24"/>
<rect class="ft" x="204.5" y="1841" width="29.5" height="24"/>
<rect class="ft" x="234" y="1841" width="52" height="24"/>
<rect class="ft" x="286" y="1841" width="29" height="24"/>
<rect class="ob" x="204.5" y="1793" width="110.5" height="72"/>
<text class="t h" x="259.75" y="1810">c_bankaccount</text>
<text class="t" x="209.5" y="1834">...</text>
<text class="t" x="207.5" y="1858">&lt; 2</text>
<text class="t r" x="282" y="1858">3 rows</text>
<text class="t r" x="311" y="1858">6 &gt;</text>
</g>

<g id="c_depositbatch">
<rect class="hd" x="649" y="1891.5" width="111" height="24"/>
<rect class="rw" x="649" y="1915.5" width="111" height="24"/>
<rect class="ft" x="649" y="1939.5" width="29" height="24"/>
<rect class="ft" x="678" y="1939.5" width="52" height="24"/>
<rect class="ft" x="730" y="1939.5" width="30" height="24"/>
<rect class="ob" x="649" y="1891.5" width="111" height="72"/>
<text class="t h" x="704.5" y="1908.5">c_depositbatch</text>
<text class="t" x="654" y="1932.5">...</text>
<text class="t" x="652" y="1956.5">&lt; 2</text>
<text class="t r" x="726" y="1956.5">0 rows</text>
<text class="t r" x="756" y="1956.5">2 &gt;</text>
</g>

<text class="t" x="16" y="2219" style="font-size:14px">Generated by SchemaSpy</text>
</svg>
